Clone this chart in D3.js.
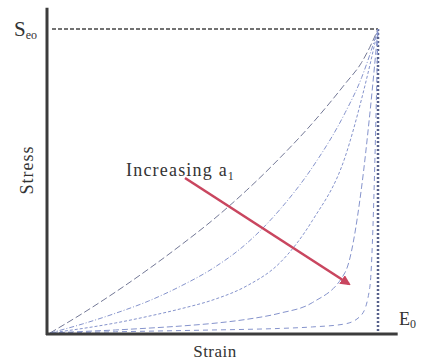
<!DOCTYPE html>
<html>
<head>
<meta charset="utf-8">
<script src="https://cdn.jsdelivr.net/npm/d3@7"></script>
<style>
  body { margin: 0; background: #fff; }
  svg text { font-family: "Liberation Serif", "DejaVu Serif", serif; fill: #333; }
</style>
</head>
<body>
<div id="chart"></div>
<script>
// strain / stress values, normalised to the peak point (eps0, Seo)
const strain  = [0, 0.1, 0.2, 0.3, 0.4, 0.5, 0.6, 0.7, 0.8, 0.9, 0.95, 0.975, 1];
const stressA = [0, 0.065, 0.135, 0.21, 0.29, 0.375, 0.47, 0.575, 0.69, 0.82, 0.89, 0.94, 1];
const stressB = [0, 0.03, 0.065, 0.105, 0.155, 0.215, 0.295, 0.405, 0.545, 0.725, 0.84, 0.915, 1];
const stressC = [0, 0.015, 0.033, 0.055, 0.08, 0.11, 0.155, 0.23, 0.37, 0.58, 0.77, 0.88, 1];
const stressD = [0, 0.005, 0.01, 0.016, 0.023, 0.032, 0.045, 0.065, 0.10, 0.20, 0.48, 0.72, 1];
const stressE = [0, 0.002, 0.004, 0.006, 0.008, 0.01, 0.012, 0.015, 0.02, 0.03, 0.06, 0.15, 1];
const dashes = ['7,3', '5,2,1,2', '3,2', '6,3', '5,4'];

const width = 423, height = 363;
const svg = d3.select('#chart').append('svg')
  .attr('width', width)
  .attr('height', height);

const x = d3.scaleLinear().domain([0, 1]).range([50, 378]);
const y = d3.scaleLinear().domain([0, 1]).range([333, 29]);

const defs = svg.append('defs');
defs.append('marker')
  .attr('id', 'arrow')
  .attr('viewBox', '0 0 10 10')
  .attr('refX', 8).attr('refY', 5)
  .attr('markerWidth', 4).attr('markerHeight', 4)
  .attr('orient', 'auto')
  .append('path')
  .attr('d', 'M0,0 L10,5 L0,10 Z')
  .attr('fill', '#c9465f');

// limit lines (dotted)
svg.append('line')
  .attr('x1', x(0) + 2).attr('x2', x(1))
  .attr('y1', y(1)).attr('y2', y(1))
  .attr('stroke', '#444').attr('stroke-width', 1.4)
  .attr('stroke-dasharray', '4,2');
svg.append('line')
  .attr('x1', x(1)).attr('x2', x(1))
  .attr('y1', y(1)).attr('y2', y(0))
  .attr('stroke', '#56608a').attr('stroke-width', 2.5)
  .attr('stroke-dasharray', '2,2');

// curves
const allStress = [stressA, stressB, stressC, stressD, stressE];
const line = d3.line()
  .x(d => x(d[0]))
  .y(d => y(d[1]))
  .curve(d3.curveMonotoneX);

svg.selectAll('.curve')
  .data(allStress)
  .enter().append('path')
  .attr('class', 'curve')
  .attr('d', s => line(strain.map((e, i) => [e, s[i]])))
  .attr('fill', 'none')
  .attr('stroke', (d, i) => i === 0 ? '#737896' : '#8593cc')
  .attr('stroke-width', 1)
  .attr('stroke-dasharray', (d, i) => dashes[i]);

// axes
svg.append('line')
  .attr('x1', x(0) - 3).attr('x2', x(0) - 3)
  .attr('y1', y(0) + 2).attr('y2', y(1.07))
  .attr('stroke', '#3c3c3c').attr('stroke-width', 3);
svg.append('line')
  .attr('x1', x(0) - 4).attr('x2', x(1.06))
  .attr('y1', y(0) + 1).attr('y2', y(0) + 1)
  .attr('stroke', '#3c3c3c').attr('stroke-width', 3);

// arrow
svg.append('line')
  .attr('x1', 185).attr('y1', 178)
  .attr('x2', 349).attr('y2', 284)
  .attr('stroke', '#c9465f').attr('stroke-width', 2.6)
  .attr('marker-end', 'url(#arrow)');

// labels
const lab = svg.append('text')
  .attr('x', 126).attr('y', 176)
  .attr('font-size', 18)
  .attr('letter-spacing', 1.2);
lab.append('tspan').text('Increasing a');
lab.append('tspan').attr('font-size', 12).attr('dy', 4).text('1');

svg.append('text')
  .attr('transform', 'translate(33,170) rotate(-90)')
  .attr('text-anchor', 'middle')
  .attr('font-size', 18)
  .attr('letter-spacing', 1)
  .text('Stress');

svg.append('text')
  .attr('x', 215).attr('y', 357)
  .attr('text-anchor', 'middle')
  .attr('font-size', 17)
  .attr('letter-spacing', 0.5)
  .text('Strain');

const sLab = svg.append('text').attr('x', 14).attr('y', 36).attr('font-size', 21);
sLab.append('tspan').text('S');
sLab.append('tspan').attr('font-size', 12).attr('dy', 3).text('eo');

const eLab = svg.append('text').attr('x', 399).attr('y', 325).attr('font-size', 18);
eLab.append('tspan').text('E');
eLab.append('tspan').attr('font-size', 12).attr('dy', 3).text('0');
</script>
</body>
</html>
